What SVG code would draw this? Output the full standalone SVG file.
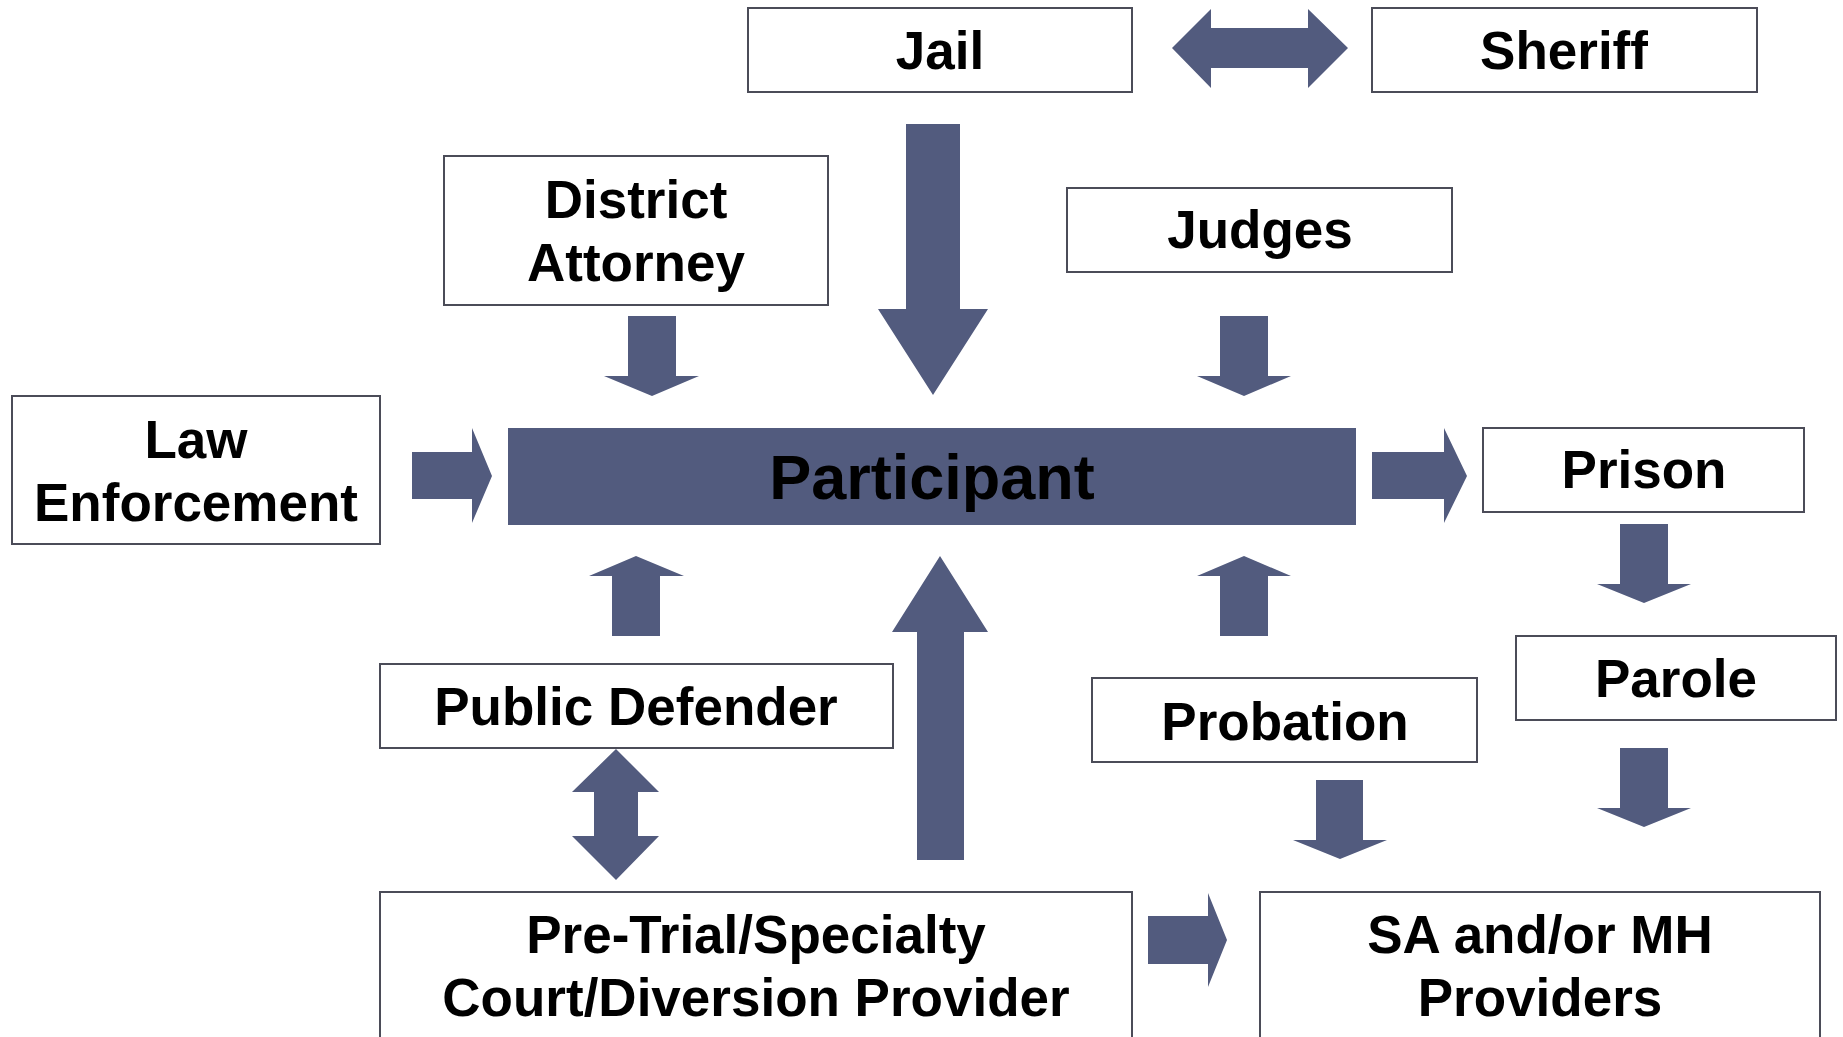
<svg xmlns="http://www.w3.org/2000/svg" width="1843" height="1037" viewBox="0 0 1843 1037">
<style>
.box{fill:#ffffff;stroke:#4b4c58;stroke-width:2}
.arr{fill:#525b7e}
.t{font-family:"Liberation Sans",Arial,sans-serif;font-weight:bold;font-size:53px;fill:#000;text-anchor:middle}
.tp{font-size:63px}
</style>
<rect x="0" y="0" width="1843" height="1037" fill="#ffffff"/>
<g id="connectors">
<polygon class="arr" points="1172,48 1211,9 1211,28 1308,28 1308,9 1348,48 1308,88 1308,68 1211,68 1211,88"/>
<polygon class="arr" points="906,124 960,124 960,309 988,309 933,395 878,309 906,309"/>
<polygon class="arr" points="628,316 676,316 676,376 699,376 652,396 604,376 628,376"/>
<polygon class="arr" points="1220,316 1268,316 1268,376 1291,376 1244,396 1197,376 1220,376"/>
<polygon class="arr" points="412,452 472,452 472,428 492,476 472,523 472,499 412,499"/>
<polygon class="arr" points="1372,452 1444,452 1444,428 1467,476 1444,523 1444,499 1372,499"/>
<polygon class="arr" points="612,636 612,576 589,576 636,556 684,576 660,576 660,636"/>
<polygon class="arr" points="1220,636 1220,576 1197,576 1244,556 1291,576 1268,576 1268,636"/>
<polygon class="arr" points="917,860 917,632 892,632 940,556 988,632 964,632 964,860"/>
<polygon class="arr" points="616,749 659,792 638,792 638,836 659,836 616,880 572,836 594,836 594,792 572,792"/>
<polygon class="arr" points="1620,524 1668,524 1668,584 1691,584 1644,603 1597,584 1620,584"/>
<polygon class="arr" points="1620,748 1668,748 1668,808 1691,808 1644,827 1597,808 1620,808"/>
<polygon class="arr" points="1316,780 1363,780 1363,840 1387,840 1340,859 1293,840 1316,840"/>
<polygon class="arr" points="1148,916 1208,916 1208,893 1227,940 1208,987 1208,964 1148,964"/>
</g>
<g id="jail"><rect class="box" x="748" y="8" width="384" height="84"/><text class="t" x="940" y="69">Jail</text></g>
<g id="sheriff"><rect class="box" x="1372" y="8" width="385" height="84"/><text class="t" x="1564" y="69">Sheriff</text></g>
<g id="district-attorney"><rect class="box" x="444" y="156" width="384" height="149"/><text class="t" x="636" y="218">District</text><text class="t" x="636" y="281">Attorney</text></g>
<g id="judges"><rect class="box" x="1067" y="188" width="385" height="84"/><text class="t" x="1260" y="248">Judges</text></g>
<g id="law-enforcement"><rect class="box" x="12" y="396" width="368" height="148"/><text class="t" x="196" y="458">Law</text><text class="t" x="196" y="521">Enforcement</text></g>
<g id="participant"><rect x="508" y="428" width="848" height="97" fill="#525b7e"/><text class="t tp" x="932" y="499">Participant</text></g>
<g id="prison"><rect class="box" x="1483" y="428" width="321" height="84"/><text class="t" x="1644" y="488">Prison</text></g>
<g id="public-defender"><rect class="box" x="380" y="664" width="513" height="84"/><text class="t" x="636" y="725">Public Defender</text></g>
<g id="probation"><rect class="box" x="1092" y="678" width="385" height="84"/><text class="t" x="1285" y="740">Probation</text></g>
<g id="parole"><rect class="box" x="1516" y="636" width="320" height="84"/><text class="t" x="1676" y="697">Parole</text></g>
<g id="pretrial"><rect class="box" x="380" y="892" width="752" height="160"/><text class="t" x="756" y="953">Pre-Trial/Specialty</text><text class="t" x="756" y="1016">Court/Diversion Provider</text></g>
<g id="sa-mh"><rect class="box" x="1260" y="892" width="560" height="160"/><text class="t" x="1540" y="953">SA and/or MH</text><text class="t" x="1540" y="1016">Providers</text></g>
</svg>
